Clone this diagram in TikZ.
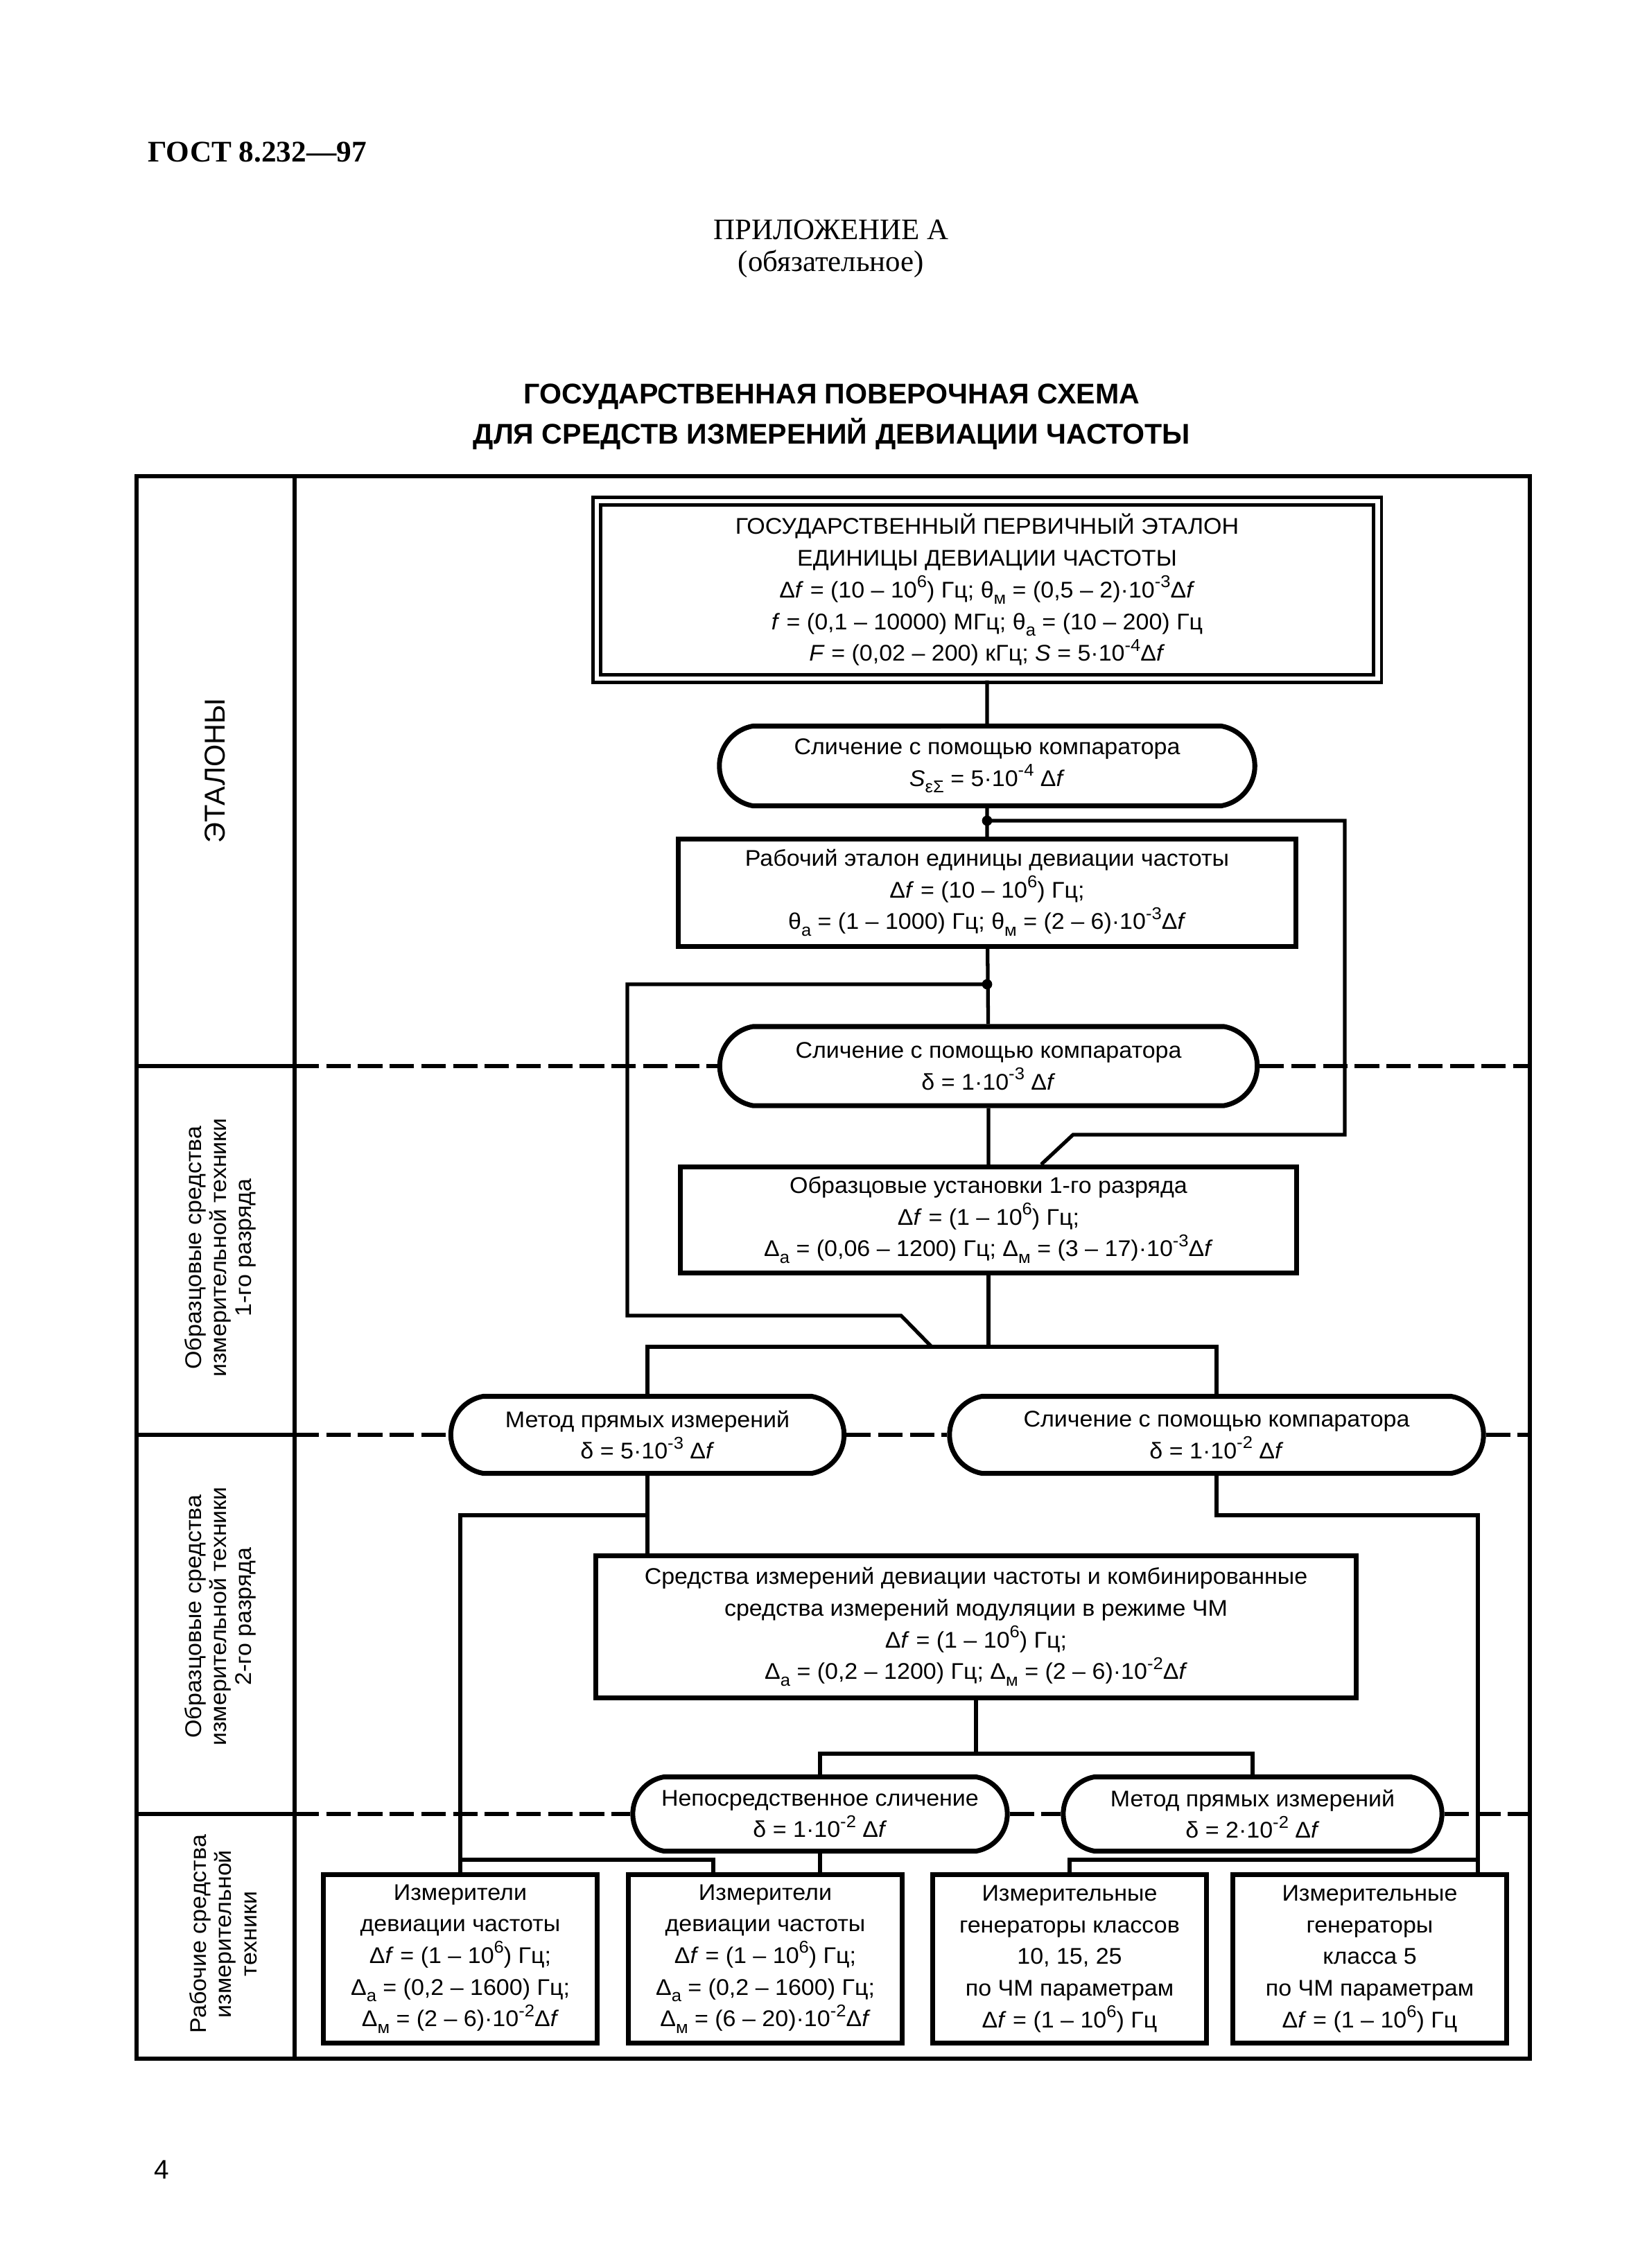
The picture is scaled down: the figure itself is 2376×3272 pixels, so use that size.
\documentclass[tikz,border=0pt]{standalone}
\usepackage{fontspec}
\setmainfont{Liberation Serif}
\newfontfamily\schemefont[FakeStretch=1.04]{Liberation Sans}
\newfontfamily\titlefont{Liberation Sans}
\usetikzlibrary{shapes.misc}
\usetikzlibrary{calc}

\newcommand{\df}{Δ\textit{f}}
\newcommand{\ex}[1]{\raisebox{0.85ex}{\fontsize{7}{7}\selectfont#1}}
\newcommand{\ix}[1]{\raisebox{-0.55ex}{\fontsize{7}{7}\selectfont#1}}
\newcommand{\boxfont}{\schemefont\fontsize{9.3}{13}\selectfont\setlength{\lineskiplimit}{-20pt}}

\tikzset{
    box/.style={draw,line width=2pt,fill=white,align=center,inner sep=0pt,font=\boxfont},
    oval/.style={box,rounded rectangle,rounded rectangle arc length=160},
    unit/.style={box,minimum width=3.95cm,minimum height=2.42cm},
    link/.style={line width=1.5pt},
    sep/.style={line width=1.6pt,dash pattern=on 10pt off 3pt},
    band/.style={rotate=90,align=center,font=\schemefont\fontsize{9.3}{10.3}\selectfont},
    fork/.style={circle,fill,inner sep=0pt,minimum size=4.2pt}
}

\begin{document}
\begin{tikzpicture}[x=0.01cm,y=-0.01cm]
                    \useasboundingbox (0,0) rectangle (2376,3272);
                    \node[anchor=base west,font=\bfseries\fontsize{12.3}{15}\selectfont] (gost) at (201,233) {ГОСТ 8.232—97};
                    \node[anchor=base,font=\fontsize{12.2}{14}\selectfont] (appendix) at (1199,345) {ПРИЛОЖЕНИЕ А};
                    \node[anchor=base,font=\fontsize{12.2}{14}\selectfont] (oblig) at (1199,391) {(обязательное)};
                    \node[anchor=base,font=\titlefont\bfseries\fontsize{11.7}{14}\selectfont] (titleA) at (1200,582) {ГОСУДАРСТВЕННАЯ ПОВЕРОЧНАЯ СХЕМА};
                    \node[anchor=base,font=\titlefont\bfseries\fontsize{11.7}{14}\selectfont] (titleB) at (1200,640) {ДЛЯ СРЕДСТВ ИЗМЕРЕНИЙ ДЕВИАЦИИ ЧАСТОТЫ};
                    \node[anchor=base west,font=\titlefont\fontsize{11}{13}\selectfont] (pagenum) at (210,3143) {4};

                    \coordinate (frameL) at (197,0);
                    \coordinate (colL) at (425,0);
                    \coordinate (frameR) at (2207,0);
                    \draw[line width=1.6pt] (197,687) rectangle (2207,2970);
                    \draw[line width=1.6pt] (425,687) -- (425,2970);

                    \node[band,font=\titlefont\fontsize{11.8}{14}\selectfont] (bandA) at (310,1112) {ЭТАЛОНЫ};
                    \node[band] (bandB) at (318,1800) {Образцовые средства\\измерительной техники\\1-го разряда};
                    \node[band] (bandC) at (318,2332) {Образцовые средства\\измерительной техники\\2-го разряда};
                    \node[band] (bandD) at (322,2790) {Рабочие средства\\измерительной\\техники};

                    \node[box,double,line width=1.4pt,double distance=1.8pt,minimum width=11.26cm,minimum height=2.56cm] (primary) at (1424,851)
                        {ГОСУДАРСТВЕННЫЙ ПЕРВИЧНЫЙ ЭТАЛОН\\ЕДИНИЦЫ ДЕВИАЦИИ ЧАСТОТЫ\\
                         \df{} = (10 – 10\ex{6}) Гц; θ\ix{м} = (0,5 – 2)·10\ex{-3}\df\\
                         \textit{f} = (0,1 – 10000) МГц; θ\ix{а} = (10 – 200) Гц\\
                         \textit{F} = (0,02 – 200) кГц; \textit{S} = 5·10\ex{-4}\df};
                    \node[oval,minimum width=7.72cm,minimum height=1.15cm] (cmpA) at (1424,1105)
                        {Сличение с помощью компаратора\\\textit{S}\ix{εΣ} = 5·10\ex{-4} \df};
                    \node[box,minimum width=8.9cm,minimum height=1.55cm] (working) at (1424,1288)
                        {Рабочий эталон единицы девиации частоты\\\df{} = (10 – 10\ex{6}) Гц;\\
                         θ\ix{а} = (1 – 1000) Гц; θ\ix{м} = (2 – 6)·10\ex{-3}\df};
                    \node[oval,minimum width=7.75cm,minimum height=1.14cm] (cmpB) at (1426,1538)
                        {Сличение с помощью компаратора\\δ = 1·10\ex{-3} \df};
                    \node[box,minimum width=8.88cm,minimum height=1.53cm] (setup) at (1426,1760)
                        {Образцовые установки 1-го разряда\\\df{} = (1 – 10\ex{6}) Гц;\\
                         Δ\ix{а} = (0,06 – 1200) Гц; Δ\ix{м} = (3 – 17)·10\ex{-3}\df};
                    \node[oval,minimum width=5.67cm,minimum height=1.11cm] (directA) at (934,2070)
                        {Метод прямых измерений\\δ = 5·10\ex{-3} \df};
                    \node[oval,minimum width=7.7cm,minimum height=1.11cm] (cmpC) at (1755,2070)
                        {Сличение с помощью компаратора\\δ = 1·10\ex{-2} \df};
                    \node[box,minimum width=10.97cm,minimum height=2.04cm] (meters) at (1408,2347)
                        {Средства измерений девиации частоты и комбинированные\\
                         средства измерений модуляции в режиме ЧМ\\\df{} = (1 – 10\ex{6}) Гц;\\
                         Δ\ix{а} = (0,2 – 1200) Гц; Δ\ix{м} = (2 – 6)·10\ex{-2}\df};
                    \node[oval,minimum width=5.4cm,minimum height=1.07cm] (direct) at (1183,2617)
                        {Непосредственное сличение\\δ = 1·10\ex{-2} \df};
                    \node[oval,minimum width=5.46cm,minimum height=1.07cm] (directB) at (1807,2617)
                        {Метод прямых измерений\\δ = 2·10\ex{-2} \df};
                    \node[unit] (unitA) at (664,2826)
                        {Измерители\\девиации частоты\\\df{} = (1 – 10\ex{6}) Гц;\\Δ\ix{а} = (0,2 – 1600) Гц;\\Δ\ix{м} = (2 – 6)·10\ex{-2}\df};
                    \node[unit] (unitB) at (1104,2826)
                        {Измерители\\девиации частоты\\\df{} = (1 – 10\ex{6}) Гц;\\Δ\ix{а} = (0,2 – 1600) Гц;\\Δ\ix{м} = (6 – 20)·10\ex{-2}\df};
                    \node[unit] (unitC) at (1543,2826)
                        {Измерительные\\генераторы классов\\10, 15, 25\\по ЧМ параметрам\\\df{} = (1 – 10\ex{6}) Гц};
                    \node[unit] (unitD) at (1976,2826)
                        {Измерительные\\генераторы\\класса 5\\по ЧМ параметрам\\\df{} = (1 – 10\ex{6}) Гц};

                    \foreach \n in {cmpB,directA,direct} {
                        \draw[line width=1.6pt] (frameL |- \n.west) -- (colL |- \n.west);
                        \draw[sep] (colL |- \n.west) -- (\n.west);
                    }
                    \draw[sep] (cmpB.east) -- (frameR |- cmpB.east);
                    \draw[sep] (directA.east) -- (cmpC.west);
                    \draw[sep] (cmpC.east) -- (frameR |- cmpC.east);
                    \draw[sep] (direct.east) -- (directB.west);
                    \draw[sep] (directB.east) -- (frameR |- directB.east);

                    \draw[link] (primary) -- (cmpA);
                    \draw[link] (cmpA) -- (working);
                    \node[fork] (forkA) at (1424,1184) {};
                    \draw[link] (forkA.center) -- (1940,1184) -- (1940,1637) -- (1548,1637) -- (1502,0 |- setup.north);
                    \draw[link] (working) -- (cmpB);
                    \node[fork] (forkB) at (1424,1420) {};
                    \draw[link] (forkB.center) -- (905,1420) -- (905,1898) -- (1300,1898) -- (1344,1943);
                    \draw[link] (cmpB) -- (setup);
                    \coordinate (hubA) at (1426,1943);
                    \draw[link] (setup) -- (hubA);
                    \draw[link] (directA.north) -- (directA.north |- hubA) -- (cmpC.north |- hubA) -- (cmpC.north);
                    \draw[link] (directA.south) -- (directA.south |- meters.north);
                    \coordinate (splitA) at (934,2186);
                    \draw[link] (splitA) -| (unitA.north);
                    \coordinate (cornerR) at (2132,2186);
                    \draw[link] (cmpC.south) |- (cornerR) -- (cornerR |- unitD.north);
                    \coordinate (hubB) at (1408,2530);
                    \draw[link] (meters) -- (hubB);
                    \draw[link] (direct.north) -- (direct.north |- hubB) -- (directB.north |- hubB) -- (directB.north);
                    \draw[link] (direct.south) -- (direct.south |- unitB.north);
                    \coordinate (splitB) at (664,2683);
                    \draw[link] (splitB) -| (1029,0 |- unitB.north);
                    \coordinate (splitC) at (2132,2683);
                    \draw[link] (splitC) -| (unitC.north);
\end{tikzpicture}
\end{document}
